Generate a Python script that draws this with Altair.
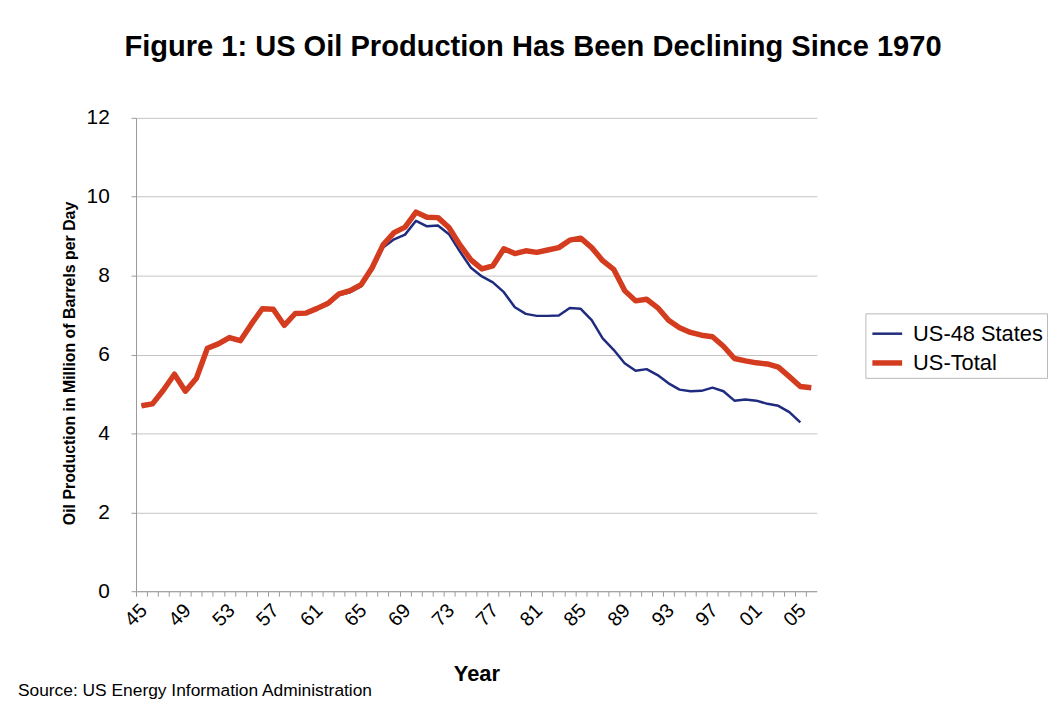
import altair as alt
import pandas as pd

years_total = list(range(1945, 2007))
us_total = [4.70, 4.75, 5.10, 5.50, 5.07, 5.40, 6.16, 6.27, 6.43, 6.35,
            6.77, 7.16, 7.15, 6.74, 7.04, 7.05, 7.17, 7.30, 7.54, 7.62,
            7.77, 8.20, 8.78, 9.09, 9.23, 9.61, 9.48, 9.47, 9.22, 8.78,
            8.40, 8.17, 8.25, 8.68, 8.56, 8.63, 8.59, 8.65, 8.71, 8.90,
            8.95, 8.71, 8.38, 8.16, 7.62, 7.36, 7.40, 7.19, 6.87, 6.68,
            6.56, 6.49, 6.45, 6.21, 5.90, 5.84, 5.79, 5.76, 5.68, 5.44,
            5.19, 5.16]

years_48 = list(range(1945, 2006))
us_48 = [4.70, 4.75, 5.10, 5.50, 5.07, 5.40, 6.16, 6.27, 6.43, 6.35,
         6.77, 7.16, 7.15, 6.74, 7.04, 7.04, 7.15, 7.27, 7.51, 7.58,
         7.73, 8.14, 8.71, 8.92, 9.04, 9.39, 9.25, 9.27, 9.05, 8.61,
         8.20, 7.98, 7.83, 7.58, 7.20, 7.03, 6.98, 6.98, 6.99, 7.18,
         7.16, 6.87, 6.41, 6.12, 5.78, 5.59, 5.63, 5.48, 5.27, 5.11,
         5.07, 5.08, 5.16, 5.07, 4.83, 4.86, 4.83, 4.75, 4.70, 4.54,
         4.28]

series_names = ["US-48 States", "US-Total"]
series_colors = ["#1f2b7e", "#d33c1e"]
series_widths = [2.5, 5.5]
y_ticks = [0, 2, 4, 6, 8, 10, 12]
x_tick_years = list(range(1945, 2008))

title_text = "Figure 1: US Oil Production Has Been Declining Since 1970"
source_text = "Source: US Energy Information Administration"

df = pd.concat([
    pd.DataFrame({"year": years_48, "value": us_48, "series": series_names[0]}),
    pd.DataFrame({"year": years_total, "value": us_total, "series": series_names[1]}),
])

W, H = 686, 477
half = W / 62 / 2
FONT = "Liberation Sans"
PL = 129

leg = alt.Legend(
    title=None, orient="none", legendX=735, legendY=197,
    strokeColor="#b8b8b8", padding=4, fillColor="white",
    labelFont=FONT, labelFontSize=22, labelColor="black", labelOffset=8,
    symbolType="stroke", symbolSize=900, rowPadding=0,
)

lines = alt.Chart(df).mark_line(strokeJoin="round").encode(
    x=alt.X(
        "year:Q",
        scale=alt.Scale(domain=[1944.5, 2006.5], nice=False, zero=False),
        axis=alt.Axis(
            values=x_tick_years, tickOffset=-half, labelOffset=half + 2,
            labelExpr="(datum.value - 1945) % 4 == 0 && datum.value < 2007 ? substring(toString(datum.value), 2, 4) : ''",
            labelAngle=315, labelAlign="right", labelBaseline="middle",
            labelPadding=11, labelFont=FONT, labelFontSize=20, labelColor="black",
            labelOverlap=False, labelFlush=False,
            tickSize=5, tickColor="#9a9a9a", domainColor="#9a9a9a", grid=False,
            title="Year", titleFont=FONT, titleFontSize=22, titleFontWeight="bold",
            titleColor="black", titleBaseline="alphabetic", titleX=343, titleY=90,
        ),
    ),
    y=alt.Y(
        "value:Q",
        scale=alt.Scale(domain=[0, 12], nice=False),
        axis=alt.Axis(
            values=y_ticks, labelFont=FONT, labelFontSize=21, labelColor="black",
            labelPadding=22, tickSize=5, tickColor="#9a9a9a", domainColor="#9a9a9a",
            gridColor="#c4c4c4", gridWidth=1,
            title="Oil Production in Million of Barrels per Day",
            titleFont=FONT, titleFontSize=16, titleFontWeight="bold", titleColor="black",
            titleAngle=270, titleAlign="center", titleBaseline="alphabetic",
            titleX=-62, titleY=247,
        ),
    ),
    color=alt.Color("series:N", scale=alt.Scale(domain=series_names, range=series_colors), legend=leg),
    strokeWidth=alt.StrokeWidth("series:N", scale=alt.Scale(domain=series_names, range=series_widths), legend=leg),
)

source = alt.Chart(alt.Data(values=[{"t": source_text}])).mark_text(
    align="left", baseline="alphabetic", font=FONT, fontSize=17.5, color="black"
).encode(text="t:N", x=alt.value(10 - PL), y=alt.value(583))

chart = alt.layer(lines, source).properties(
    width=W, height=H,
    title=alt.TitleParams(
        title_text, font=FONT, fontSize=29.3, fontWeight="bold", color="black",
        anchor="middle", dx=57, offset=45,
    ),
    autosize=alt.AutoSizeParams(type="none"),
    padding={"left": PL, "top": 108, "right": 1051 - PL - W, "bottom": 115},
    background="white",
).configure_view(stroke=None)

chart.save("out.html", embed_options={"renderer": "svg", "actions": False})
